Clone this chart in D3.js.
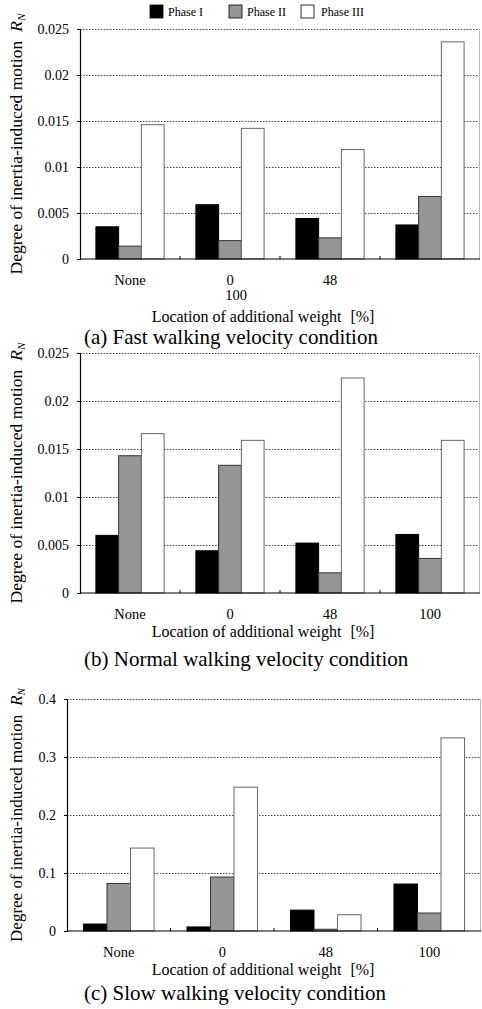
<!DOCTYPE html>
<html>
<head>
<meta charset="utf-8">
<script src="https://cdn.jsdelivr.net/npm/d3@7"></script>
<style>
  body { margin: 0; background: #fff; }
  svg, svg text { font-family: 'Liberation Serif', 'DejaVu Serif', serif !important; }
</style>
</head>
<body>
<div id="chart"></div>
<script>
// categories and series
var locations = ["None", "0", "48", "100"];
var phases = ["Phase I", "Phase II", "Phase III"];

var fastPhase1 = [0.0035, 0.0059, 0.0044, 0.0037];
var fastPhase2 = [0.0014, 0.0020, 0.0023, 0.0068];
var fastPhase3 = [0.0146, 0.0142, 0.0119, 0.0236];

var normalPhase1 = [0.0060, 0.0044, 0.0052, 0.0061];
var normalPhase2 = [0.0143, 0.0133, 0.0021, 0.0036];
var normalPhase3 = [0.0166, 0.0159, 0.0224, 0.0159];

var slowPhase1 = [0.012, 0.007, 0.036, 0.081];
var slowPhase2 = [0.082, 0.093, 0.003, 0.031];
var slowPhase3 = [0.143, 0.248, 0.028, 0.333];

var smallTicks = [0, 0.005, 0.01, 0.015, 0.02, 0.025];
var smallTickLabels = ["0", "0.005", "0.01", "0.015", "0.02", "0.025"];
var bigTicks = [0, 0.1, 0.2, 0.3, 0.4];
var bigTickLabels = ["0", "0.1", "0.2", "0.3", "0.4"];

var captions = ["(a) Fast walking velocity condition",
                "(b) Normal walking velocity condition",
                "(c) Slow walking velocity condition"];

var W = 482, H = 1009;
var svg = d3.select("#chart").append("svg").attr("width", W).attr("height", H)
    .attr("font-family", "Liberation Serif, serif");

//fill + stroke per phase
var fills = ["#000000", "#969696", "#ffffff"];
var strokes = ["#000000", "#333333", "#666666"];

// legend
var legend = svg.append("g").attr("class", "legend");
var legX = [150, 229, 301];
phases.forEach(function(p, i) {
    legend.append("rect")
        .attr("x", legX[i]).attr("y", 5)
        .attr("width", 13).attr("height", 13)
        .style("fill", fills[i]).style("stroke", "#000").style("stroke-width", 0.8);
    legend.append("text")
        .attr("x", legX[i] + (i == 2 ? 20 : 18)).attr("y", 16)
        .style("font-size", "12px")
        .text(p);
});

var panels = [
    {p1: fastPhase1, p2: fastPhase2, p3: fastPhase3, top: 29, bottom: 259, left: 80, right: 480,
     max: 0.025, ticks: smallTicks, labels: smallTickLabels, caption: captions[0], broken: true,
     titleY: 322, capY: 344, ySize: 17.5},
    {p1: normalPhase1, p2: normalPhase2, p3: normalPhase3, top: 353, bottom: 593, left: 80, right: 480,
     max: 0.025, ticks: smallTicks, labels: smallTickLabels, caption: captions[1], broken: false,
     titleY: 637, capY: 666, ySize: 17.5},
    {p1: slowPhase1, p2: slowPhase2, p3: slowPhase3, top: 699, bottom: 931, left: 67, right: 481,
     max: 0.4, ticks: bigTicks, labels: bigTickLabels, caption: captions[2], broken: false,
     titleY: 975, capY: 1000, ySize: 17}
];

panels.forEach(drawPanel);

function drawPanel(cfg) {
    var g = svg.append("g");

    var x = d3.scaleBand().domain(locations).range([cfg.left, cfg.right]).padding(0);
    var xi = d3.scaleBand().domain(d3.range(3)).range([0, x.bandwidth()])
        .paddingInner(0).paddingOuter(0.7);
    var y = d3.scaleLinear().domain([0, cfg.max]).range([cfg.bottom, cfg.top]);

    // dotted grid
    g.selectAll(".grid").data(cfg.ticks.slice(1)).enter().append("line")
        .attr("x1", cfg.left).attr("x2", cfg.right)
        .attr("y1", function(d){ return Math.round(y(d)) + 0.5; })
        .attr("y2", function(d){ return Math.round(y(d)) + 0.5; })
        .style("stroke", "#444").style("stroke-width", 1)
        .style("stroke-dasharray", "1.5,1.5");

    // right border
    g.append("line")
        .attr("x1", cfg.right - 0.5).attr("x2", cfg.right - 0.5)
        .attr("y1", cfg.top).attr("y2", cfg.bottom)
        .style("stroke", "#bbb");

    // bars
    var rows = locations.map(function(loc, i) {
        return {loc: loc, vals: [cfg.p1[i], cfg.p2[i], cfg.p3[i]]};
    });
    var grp = g.selectAll(".grp").data(rows).enter().append("g")
        .attr("transform", function(d){ return "translate(" + x(d.loc) + ",0)"; });
    grp.selectAll("rect").data(function(d){ return d.vals; }).enter().append("rect")
        .attr("x", function(d, i){ return xi(i); })
        .attr("y", function(d){ return y(d); })
        .attr("width", xi.bandwidth())
        .attr("height", function(d){ return y(0) - y(d); })
        .style("fill", function(d, i){ return fills[i]; })
        .style("stroke", function(d, i){ return strokes[i]; })
        .style("stroke-width", 1);

    // y axis
    var yAxis = d3.axisLeft(y).tickValues(cfg.ticks).tickSize(3)
        .tickFormat(function(d, i){ return cfg.labels[i]; });
    var ya = g.append("g").attr("transform", "translate(" + cfg.left + ",0)").call(yAxis)
        .attr("font-family", null).attr("font-size", null);
    ya.select(".domain").style("stroke", "#000").style("stroke-width", 1.2);
    ya.selectAll(".tick line").style("stroke", "#000");
    ya.selectAll("text").style("font-size", "14px").attr("x", -11).attr("dy", "0.35em");

    // x baseline + separator ticks pointing up
    g.append("line")
        .attr("x1", cfg.left).attr("x2", cfg.right)
        .attr("y1", y(0)).attr("y2", y(0))
        .style("stroke", "#000").style("stroke-width", 1.2);
    g.selectAll(".sep").data(locations.slice(1)).enter().append("line")
        .attr("x1", function(d){ return x(d); }).attr("x2", function(d){ return x(d); })
        .attr("y1", y(0)).attr("y2", y(0) - 3)
        .style("stroke", "#000");

    // category labels (panel a wraps the last one under "0")
    g.selectAll(".xl").data(locations).enter().append("text")
        .attr("x", function(d, i){
            if (cfg.broken && i == 3) return x(locations[1]) + x.bandwidth() / 2 + 6;
            return x(d) + x.bandwidth() / 2;
        })
        .attr("y", function(d, i){
            if (cfg.broken && i == 3) return y(0) + 41;
            return y(0) + 26;
        })
        .attr("text-anchor", "middle")
        .style("font-size", "14.5px")
        .text(function(d){ return d; });

    // x title
    var xt = g.append("text")
        .attr("x", 263).attr("y", cfg.titleY)
        .attr("text-anchor", "middle")
        .style("font-size", "16px");
    xt.append("tspan").text("Location of additional weight");
    xt.append("tspan").attr("dx", 9).text("[%]");

    // caption
    g.append("text")
        .attr("x", 84).attr("y", cfg.capY)
        .style("font-size", "21px")
        .text(cfg.caption);

    // y title (rotated)
    var cy = (cfg.top + cfg.bottom) / 2;
    var yt = g.append("text")
        .attr("transform", "translate(22," + cy + ") rotate(-90)")
        .attr("text-anchor", "middle")
        .style("font-size", cfg.ySize + "px");
    yt.append("tspan").text("Degree of inertia-induced motion");
    yt.append("tspan").attr("dx", 9).style("font-style", "italic").text("R");
    yt.append("tspan").attr("dy", 3).style("font-size", (cfg.ySize * 0.65) + "px")
        .style("font-style", "italic").text("N");
}
</script>
</body>
</html>
